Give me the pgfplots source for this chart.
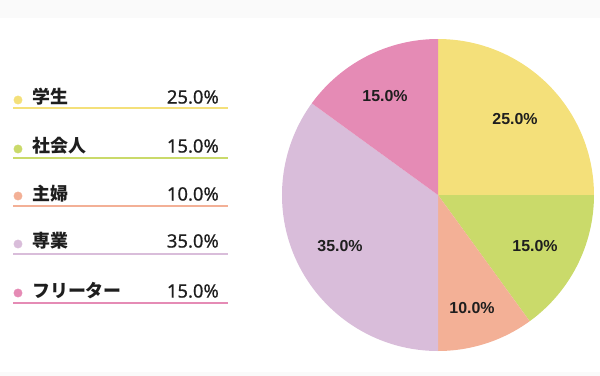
\documentclass[border=0pt]{standalone}
\usepackage{fontspec}
\usepackage{pgfplots}
\pgfplotsset{compat=1.18}
\setmainfont{Liberation Sans}
\newfontfamily\jp{Noto Sans CJK JP}
\newfontfamily\num{Noto Sans}[FakeBold=0.6]
\definecolor{cA}{HTML}{F4E07A}
\definecolor{cB}{HTML}{CADA6A}
\definecolor{cC}{HTML}{F3B096}
\definecolor{cD}{HTML}{D9BDDA}
\definecolor{cE}{HTML}{E58BB5}
\definecolor{txt}{HTML}{1E1E1E}
\begin{document}
\begin{tikzpicture}
\useasboundingbox (0,0) rectangle (600bp,376bp);
\begin{axis}[at={(0,0)}, anchor=south west, width=600bp, height=376bp, scale only axis,
  xmin=0, xmax=600, ymin=0, ymax=376, y dir=reverse, hide axis, clip=false]
% background bands
\fill[black!2] (axis cs:0,0) rectangle (axis cs:600,18);
\fill[black!2] (axis cs:0,372) rectangle (axis cs:600,376);
% pie: values 25, 15, 10, 35, 15 (percent), clockwise from top
\fill[cA] (axis cs:438,195) -- ++(90:156bp) arc[start angle=90, delta angle=-25*3.6, radius=156bp] -- cycle;
\fill[cB] (axis cs:438,195) -- ++(0:156bp) arc[start angle=0, delta angle=-15*3.6, radius=156bp] -- cycle;
\fill[cC] (axis cs:438,195) -- ++(-54:156bp) arc[start angle=-54, delta angle=-10*3.6, radius=156bp] -- cycle;
\fill[cD] (axis cs:438,195) -- ++(-90:156bp) arc[start angle=-90, delta angle=-35*3.6, radius=156bp] -- cycle;
\fill[cE] (axis cs:438,195) -- ++(-216:156bp) arc[start angle=-216, delta angle=-15*3.6, radius=156bp] -- cycle;
% pie labels
\begin{scope}[every node/.style={font=\bfseries\fontsize{16}{16}\selectfont, text=txt}]
\node at (axis cs:515,119) {25.0\%};
\node at (axis cs:535,246) {15.0\%};
\node at (axis cs:472,308) {10.0\%};
\node at (axis cs:340,246) {35.0\%};
\node at (axis cs:385,96) {15.0\%};
\end{scope}
% legend underlines
\addplot[cA, line width=1.6bp] coordinates {(13,108) (228,108)};
\addplot[cB, line width=1.6bp] coordinates {(13,158) (228,158)};
\addplot[cC, line width=1.6bp] coordinates {(13,206) (228,206)};
\addplot[cD, line width=1.6bp] coordinates {(13,254) (228,254)};
\addplot[cE, line width=1.6bp] coordinates {(13,303) (228,303)};
% legend dots
\addplot[only marks, mark=*, mark size=4.2bp, color=cA] coordinates {(18,100)};
\addplot[only marks, mark=*, mark size=4.2bp, color=cB] coordinates {(18,149)};
\addplot[only marks, mark=*, mark size=4.2bp, color=cC] coordinates {(18,196)};
\addplot[only marks, mark=*, mark size=4.2bp, color=cD] coordinates {(18,244)};
\addplot[only marks, mark=*, mark size=4.2bp, color=cE] coordinates {(18,293)};
% legend labels
\begin{scope}[every node/.style={anchor=west, inner sep=0pt, font=\jp\bfseries\fontsize{18}{18}\selectfont, text=txt}]
\node at (axis cs:32,97) {学生};
\node at (axis cs:32,146) {社会人};
\node at (axis cs:32,194) {主婦};
\node at (axis cs:32,241) {専業};
\node at (axis cs:32,291) {フリーター};
\end{scope}
\begin{scope}[every node/.style={anchor=east, inner sep=0pt, font=\num\fontsize{18.5}{18}\selectfont, text=txt}]
\node at (axis cs:219,97) {25.0\%};
\node at (axis cs:219,146) {15.0\%};
\node at (axis cs:219,194) {10.0\%};
\node at (axis cs:219,241) {35.0\%};
\node at (axis cs:219,291) {15.0\%};
\end{scope}
\end{axis}
\end{tikzpicture}
\end{document}
